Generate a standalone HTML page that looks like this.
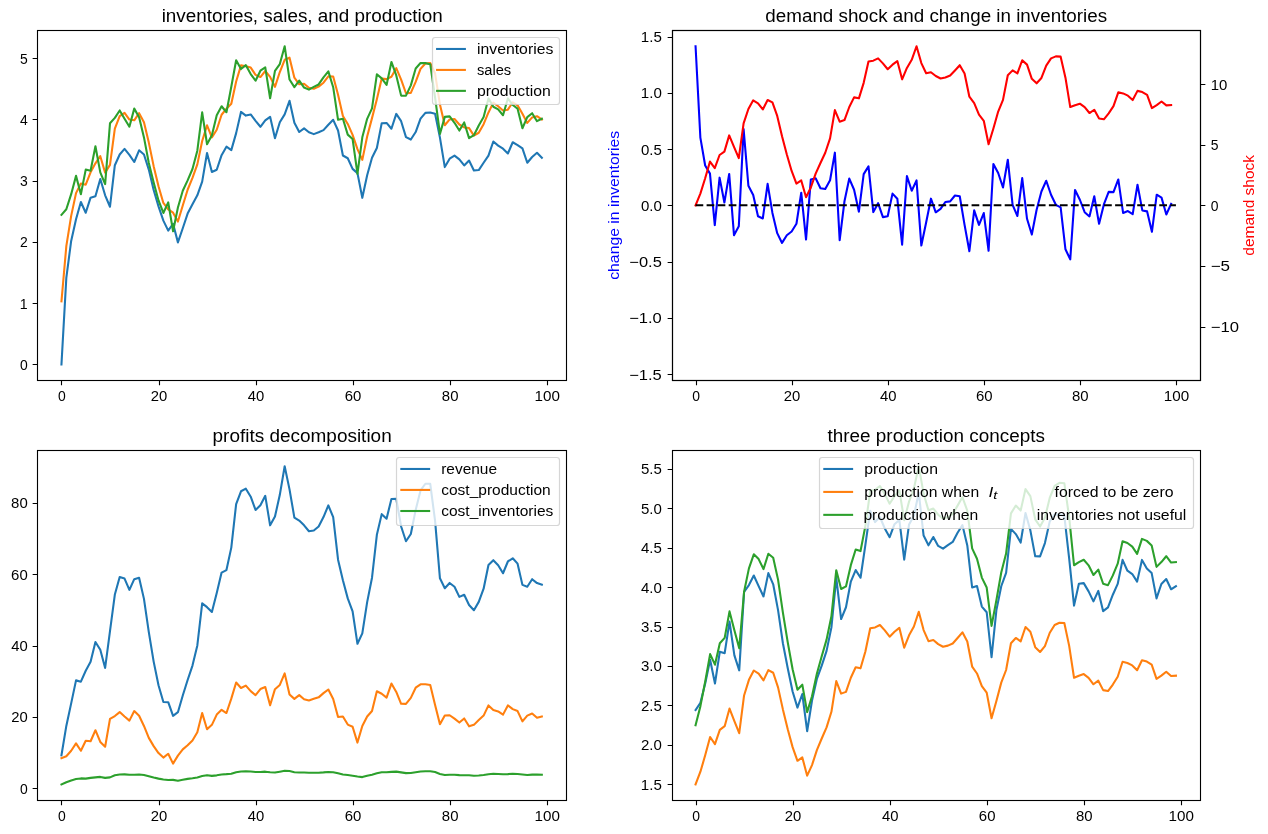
<!DOCTYPE html>
<html><head><meta charset="utf-8"><title>production smoothing</title>
<style>html,body{margin:0;padding:0;background:#fff}svg{display:block;will-change:transform}</style></head>
<body>
<svg width="1268" height="834" viewBox="0 0 1268 834" font-family="'Liberation Sans', sans-serif">
<rect x="0" y="0" width="1268" height="834" fill="#fff"/>
<text x="58.09" y="401.06" font-size="14.58" fill="#000" fill-opacity="1.0" textLength="7.75" lengthAdjust="spacingAndGlyphs">0</text>
<text x="150.76" y="401.06" font-size="14.58" fill="#000" fill-opacity="1.0" textLength="16.50" lengthAdjust="spacingAndGlyphs">20</text>
<text x="247.81" y="401.06" font-size="14.58" fill="#000" fill-opacity="1.0" textLength="16.50" lengthAdjust="spacingAndGlyphs">40</text>
<text x="344.79" y="401.06" font-size="14.58" fill="#000" fill-opacity="1.0" textLength="16.62" lengthAdjust="spacingAndGlyphs">60</text>
<text x="441.84" y="401.06" font-size="14.58" fill="#000" fill-opacity="1.0" textLength="16.62" lengthAdjust="spacingAndGlyphs">80</text>
<text x="534.51" y="401.06" font-size="14.58" fill="#000" fill-opacity="1.0" textLength="25.38" lengthAdjust="spacingAndGlyphs">100</text>
<text x="19.98" y="369.92" font-size="14.58" fill="#000" fill-opacity="1.0" textLength="7.75" lengthAdjust="spacingAndGlyphs">0</text>
<text x="19.85" y="308.68" font-size="14.58" fill="#000" fill-opacity="1.0" textLength="7.88" lengthAdjust="spacingAndGlyphs">1</text>
<text x="19.98" y="247.43" font-size="14.58" fill="#000" fill-opacity="1.0" textLength="7.75" lengthAdjust="spacingAndGlyphs">2</text>
<text x="19.98" y="186.19" font-size="14.58" fill="#000" fill-opacity="1.0" textLength="7.75" lengthAdjust="spacingAndGlyphs">3</text>
<text x="19.98" y="124.95" font-size="14.58" fill="#000" fill-opacity="1.0" textLength="7.75" lengthAdjust="spacingAndGlyphs">4</text>
<text x="19.98" y="63.70" font-size="14.58" fill="#000" fill-opacity="1.0" textLength="7.75" lengthAdjust="spacingAndGlyphs">5</text>
<path d="M61.5 380.5v4.86M159.5 380.5v4.86M256.5 380.5v4.86M353.5 380.5v4.86M450.5 380.5v4.86M547.5 380.5v4.86M37.5 364.5h-4.86M37.5 303.5h-4.86M37.5 242.5h-4.86M37.5 181.5h-4.86M37.5 119.5h-4.86M37.5 58.5h-4.86" stroke="#000" stroke-width="1.11" fill="none"/>
<rect x="37.5" y="30.5" width="529.0" height="350.0" fill="none" stroke="#000" stroke-width="1.11"/>
<clipPath id="c1"><rect x="37.45" y="30.33" width="528.41" height="350.00"/></clipPath>
<g clip-path="url(#c1)" fill="none" stroke-width="2.083" stroke-linejoin="round">
<polyline points="61.47,364.42 66.32,277.82 71.17,240.93 76.03,219.25 80.88,201.99 85.73,212.74 90.58,197.68 95.43,196.17 100.29,179.07 105.14,195.29 109.99,206.74 114.84,165.21 119.70,154.55 124.55,148.92 129.40,154.87 134.25,162.00 139.10,150.33 143.96,154.47 148.81,169.61 153.66,190.07 158.51,206.37 163.37,220.63 168.22,230.65 173.07,223.76 177.92,242.38 182.77,228.28 187.63,213.57 192.48,204.23 197.33,195.33 202.18,181.67 207.04,153.00 211.89,171.96 216.74,169.73 221.59,155.17 226.44,146.69 231.30,150.15 236.15,133.14 241.00,111.93 245.85,115.60 250.71,114.43 255.56,120.86 260.41,126.78 265.26,120.42 270.11,116.82 274.97,138.22 279.82,122.30 284.67,114.35 289.52,100.80 294.38,122.70 299.23,132.03 304.08,128.41 308.93,132.20 313.79,134.15 318.64,132.32 323.49,130.15 328.34,124.79 333.19,119.85 338.05,130.51 342.90,155.47 347.75,158.23 352.60,168.91 357.46,173.11 362.31,197.83 367.16,175.30 372.01,157.71 376.86,148.01 381.72,123.17 386.57,122.95 391.42,128.74 396.27,113.89 401.13,121.20 405.98,137.11 410.83,139.55 415.68,132.03 420.53,118.63 425.39,112.85 430.24,112.56 435.09,113.71 439.94,137.64 444.80,167.08 449.65,158.69 454.50,155.65 459.35,159.41 464.20,165.45 469.06,160.50 473.91,170.56 478.76,170.05 483.61,162.74 488.47,155.56 493.32,141.48 498.17,145.63 503.02,148.73 507.87,153.51 512.73,142.27 517.58,145.04 522.43,148.34 527.28,162.77 532.14,156.97 536.99,152.77 541.84,157.74" stroke="#1f77b4" stroke-linecap="square"/>
<polyline points="61.47,301.42 66.32,246.13 71.17,215.85 76.03,193.12 80.88,183.53 85.73,184.65 90.58,172.29 95.43,163.31 100.29,156.20 105.14,172.62 109.99,164.83 114.84,128.58 119.70,116.10 124.55,112.83 129.40,119.59 134.25,120.30 139.10,113.19 143.96,122.24 148.81,142.59 153.66,166.15 158.51,186.20 163.37,202.94 168.22,209.30 173.07,212.67 177.92,221.57 182.77,205.43 187.63,189.76 192.48,177.88 197.33,164.41 202.18,141.03 207.04,125.32 211.89,137.36 216.74,129.74 221.59,114.76 226.44,108.77 231.30,103.70 236.15,81.44 241.00,65.39 245.85,66.31 250.71,67.59 255.56,74.83 260.41,77.06 265.26,70.98 270.11,76.84 274.97,86.81 279.82,72.02 284.67,59.80 289.52,57.64 294.38,77.74 299.23,84.27 304.08,83.77 308.93,87.71 313.79,88.74 318.64,86.62 323.49,82.70 328.34,76.34 333.19,76.56 338.05,94.84 342.90,115.94 347.75,123.94 352.60,134.80 357.46,149.18 362.31,159.86 367.16,136.43 372.01,118.13 376.86,99.15 381.72,78.60 386.57,79.14 391.42,76.81 396.27,68.16 401.13,79.70 405.98,93.23 410.83,92.87 415.68,81.91 420.53,68.84 425.39,63.43 430.24,63.06 435.09,73.56 439.94,104.42 444.80,125.25 449.65,119.42 454.50,119.03 459.35,124.51 464.20,127.41 469.06,128.08 473.91,135.68 478.76,132.74 483.61,124.21 488.47,112.47 493.32,102.64 498.17,106.25 503.02,110.48 507.87,109.66 512.73,102.26 517.58,105.34 522.43,113.83 527.28,122.91 532.14,117.42 536.99,116.22 541.84,119.58" stroke="#ff7f0e" stroke-linecap="square"/>
<polyline points="61.47,214.82 66.32,209.24 71.17,194.17 76.03,175.86 80.88,194.28 85.73,169.60 90.58,170.78 95.43,146.21 100.29,172.42 105.14,184.07 109.99,123.30 114.84,117.92 119.70,110.47 124.55,118.79 129.40,126.73 134.25,108.63 139.10,117.33 143.96,137.39 148.81,163.05 153.66,182.44 158.51,200.45 163.37,212.97 168.22,202.42 173.07,231.29 177.92,207.47 182.77,190.73 187.63,180.42 192.48,168.98 197.33,150.74 202.18,112.36 207.04,144.27 211.89,135.14 216.74,115.18 221.59,106.28 226.44,112.23 231.30,86.69 236.15,60.23 241.00,69.06 245.85,65.14 250.71,74.02 255.56,80.75 260.41,70.70 265.26,67.38 270.11,98.25 274.97,70.88 279.82,64.07 284.67,46.24 289.52,79.54 294.38,87.06 299.23,80.65 304.08,87.56 308.93,89.66 313.79,86.91 318.64,84.45 323.49,77.34 328.34,71.41 333.19,87.22 338.05,119.80 342.90,118.69 347.75,134.61 352.60,139.01 357.46,173.90 362.31,137.33 367.16,118.83 372.01,108.43 376.86,74.31 381.72,78.38 386.57,84.93 391.42,61.97 396.27,75.47 401.13,95.62 405.98,95.67 410.83,85.35 415.68,68.51 420.53,63.06 425.39,63.14 430.24,64.21 435.09,97.48 439.94,133.87 444.80,116.86 449.65,116.39 454.50,122.79 459.35,130.55 464.20,122.46 469.06,138.14 473.91,135.17 478.76,125.42 483.61,117.03 488.47,98.39 493.32,106.79 498.17,109.36 503.02,115.25 507.87,98.42 512.73,105.03 517.58,108.64 522.43,128.27 527.28,117.11 532.14,113.21 536.99,121.19 541.84,118.74" stroke="#2ca02c" stroke-linecap="square"/>
</g>
<text x="161.65" y="22.00" font-size="17.50" fill="#000" fill-opacity="1.0" textLength="281.00" lengthAdjust="spacingAndGlyphs">inventories, sales, and production</text>
<rect x="432.50" y="37.50" width="127.00" height="67.00" rx="2.78" ry="2.78" fill="#fff" fill-opacity="0.8" stroke="#ccc" stroke-opacity="0.8" stroke-width="1.2"/>
<path d="M437.10 48.97L464.87 48.97" stroke="#1f77b4" stroke-width="2.083" stroke-linecap="square" fill="none"/>
<text x="476.98" y="53.83" font-size="14.58" fill="#000" fill-opacity="1.0" textLength="76.38" lengthAdjust="spacingAndGlyphs">inventories</text>
<path d="M437.10 69.92L464.87 69.92" stroke="#ff7f0e" stroke-width="2.083" stroke-linecap="square" fill="none"/>
<text x="476.98" y="74.78" font-size="14.58" fill="#000" fill-opacity="1.0" textLength="34.25" lengthAdjust="spacingAndGlyphs">sales</text>
<path d="M437.10 90.86L464.87 90.86" stroke="#2ca02c" stroke-width="2.083" stroke-linecap="square" fill="none"/>
<text x="476.98" y="95.72" font-size="14.58" fill="#000" fill-opacity="1.0" textLength="73.75" lengthAdjust="spacingAndGlyphs">production</text>
<text x="692.18" y="401.06" font-size="14.58" fill="#000" fill-opacity="1.0" textLength="7.75" lengthAdjust="spacingAndGlyphs">0</text>
<text x="783.88" y="401.06" font-size="14.58" fill="#000" fill-opacity="1.0" textLength="16.50" lengthAdjust="spacingAndGlyphs">20</text>
<text x="879.96" y="401.06" font-size="14.58" fill="#000" fill-opacity="1.0" textLength="16.50" lengthAdjust="spacingAndGlyphs">40</text>
<text x="975.97" y="401.06" font-size="14.58" fill="#000" fill-opacity="1.0" textLength="16.62" lengthAdjust="spacingAndGlyphs">60</text>
<text x="1072.04" y="401.06" font-size="14.58" fill="#000" fill-opacity="1.0" textLength="16.62" lengthAdjust="spacingAndGlyphs">80</text>
<text x="1163.74" y="401.06" font-size="14.58" fill="#000" fill-opacity="1.0" textLength="25.38" lengthAdjust="spacingAndGlyphs">100</text>
<text x="629.19" y="379.60" font-size="14.58" fill="#000" fill-opacity="1.0" textLength="32.62" lengthAdjust="spacingAndGlyphs">−1.5</text>
<text x="629.19" y="323.34" font-size="14.58" fill="#000" fill-opacity="1.0" textLength="32.62" lengthAdjust="spacingAndGlyphs">−1.0</text>
<text x="629.32" y="267.09" font-size="14.58" fill="#000" fill-opacity="1.0" textLength="32.50" lengthAdjust="spacingAndGlyphs">−0.5</text>
<text x="640.94" y="210.83" font-size="14.58" fill="#000" fill-opacity="1.0" textLength="20.88" lengthAdjust="spacingAndGlyphs">0.0</text>
<text x="640.94" y="154.58" font-size="14.58" fill="#000" fill-opacity="1.0" textLength="20.88" lengthAdjust="spacingAndGlyphs">0.5</text>
<text x="640.82" y="98.32" font-size="14.58" fill="#000" fill-opacity="1.0" textLength="21.00" lengthAdjust="spacingAndGlyphs">1.0</text>
<text x="640.82" y="42.07" font-size="14.58" fill="#000" fill-opacity="1.0" textLength="21.00" lengthAdjust="spacingAndGlyphs">1.5</text>
<path d="M696.5 380.5v4.86M792.5 380.5v4.86M888.5 380.5v4.86M984.5 380.5v4.86M1080.5 380.5v4.86M1176.5 380.5v4.86M672.5 374.5h-4.86M672.5 318.5h-4.86M672.5 262.5h-4.86M672.5 205.5h-4.86M672.5 149.5h-4.86M672.5 93.5h-4.86M672.5 37.5h-4.86" stroke="#000" stroke-width="1.11" fill="none"/>
<rect x="672.5" y="30.5" width="528.0" height="350.0" fill="none" stroke="#000" stroke-width="1.11"/>
<clipPath id="c2a"><rect x="671.54" y="30.33" width="528.41" height="350.00"/></clipPath>
<g clip-path="url(#c2a)" fill="none" stroke-width="2.083" stroke-linejoin="round">
<polyline points="695.56,46.24 700.36,137.57 705.17,165.50 709.97,173.63 714.77,225.08 719.58,177.67 724.38,202.55 729.19,173.93 733.99,235.13 738.79,226.37 743.60,129.04 748.40,185.74 753.20,194.99 758.01,216.27 762.81,218.43 767.62,183.89 772.42,212.93 777.22,233.16 782.03,242.92 786.83,235.27 791.63,231.53 796.44,223.75 801.24,192.68 806.05,239.53 810.85,179.42 815.65,178.33 820.46,188.18 825.26,188.98 830.06,180.24 834.87,152.67 839.67,240.15 844.47,201.25 849.28,178.58 854.08,189.75 858.89,211.68 863.69,174.09 868.49,166.37 873.30,212.08 878.10,203.18 882.90,217.14 887.71,216.22 892.51,193.64 897.32,198.72 902.12,244.66 906.92,176.08 911.73,190.74 916.53,180.43 921.33,245.57 926.14,222.47 930.94,198.68 935.75,212.30 940.55,208.92 945.35,201.97 950.16,201.35 954.96,195.48 959.76,196.27 964.57,224.92 969.37,251.19 974.18,210.40 978.98,224.94 983.78,213.05 988.59,250.75 993.39,163.95 998.19,173.01 1003.00,187.51 1007.80,159.71 1012.60,204.93 1017.41,215.97 1022.21,178.06 1027.02,218.76 1031.82,234.57 1036.62,209.81 1041.43,191.52 1046.23,180.72 1051.03,194.72 1055.84,204.81 1060.64,207.45 1065.45,249.28 1070.25,259.42 1075.05,189.92 1079.86,199.75 1084.66,212.23 1089.46,216.43 1094.27,196.25 1099.07,223.81 1103.88,204.40 1108.68,191.89 1113.48,192.14 1118.29,179.47 1123.09,212.96 1127.89,211.04 1132.70,214.11 1137.50,184.68 1142.31,210.42 1147.11,211.39 1151.91,231.84 1156.72,194.68 1161.52,197.61 1166.32,214.46 1171.13,203.79" stroke="#0000ff" stroke-linecap="square"/>
</g>
<clipPath id="c2b"><rect x="671.54" y="30.33" width="528.41" height="350.00"/></clipPath>
<g clip-path="url(#c2b)" fill="none" stroke-width="2.083" stroke-linejoin="round">
<polyline points="695.56,205.33 700.36,193.62 705.17,178.28 709.97,161.62 714.77,168.15 719.58,155.01 724.38,151.65 729.19,135.41 733.99,146.93 738.79,158.12 743.60,123.35 748.40,108.96 753.20,100.35 758.01,103.28 762.81,109.43 767.62,100.00 772.42,102.43 777.22,115.90 782.03,136.18 786.83,154.42 791.63,170.97 796.44,183.55 801.24,180.43 806.05,197.27 810.85,187.51 815.65,173.69 820.46,163.01 825.26,152.77 830.06,138.40 834.87,110.10 839.67,121.64 844.47,120.06 849.28,107.00 854.08,97.38 858.89,98.35 863.69,82.85 868.49,61.49 873.30,60.67 878.10,58.39 882.90,63.38 887.71,69.23 892.51,64.68 897.32,61.06 902.12,79.36 906.92,67.94 911.73,59.83 916.53,46.24 921.33,63.08 926.14,73.31 930.94,72.25 935.75,76.03 940.55,78.47 945.35,77.43 950.16,75.50 954.96,70.44 959.76,65.18 964.57,73.56 969.37,96.72 974.18,103.11 978.98,114.66 983.78,120.77 988.59,144.31 993.39,128.50 998.19,111.54 1003.00,99.89 1007.80,75.20 1012.60,70.37 1017.41,73.48 1022.21,60.25 1027.02,64.62 1031.82,78.84 1036.62,83.28 1041.43,77.94 1046.23,65.58 1051.03,58.37 1055.84,56.41 1060.64,56.65 1065.45,77.68 1070.25,107.06 1075.05,105.16 1079.86,103.68 1084.66,107.11 1089.46,113.03 1094.27,109.74 1099.07,118.43 1103.88,119.30 1108.68,113.30 1113.48,106.13 1118.29,92.29 1123.09,93.41 1127.89,95.65 1132.70,100.09 1137.50,90.88 1142.31,92.09 1147.11,94.87 1151.91,108.06 1156.72,105.11 1161.52,101.52 1166.32,105.39 1171.13,105.12" stroke="#ff0000" stroke-linecap="square"/>
<polyline points="695.56,205.33 1175.93,205.33" stroke="#000000" stroke-dasharray="7.708 3.333"/>
</g>
<text x="1210.67" y="332.09" font-size="14.58" fill="#000" fill-opacity="1.0" textLength="28.25" lengthAdjust="spacingAndGlyphs">−10</text>
<text x="1210.67" y="271.46" font-size="14.58" fill="#000" fill-opacity="1.0" textLength="19.38" lengthAdjust="spacingAndGlyphs">−5</text>
<text x="1210.67" y="210.83" font-size="14.58" fill="#000" fill-opacity="1.0" textLength="7.75" lengthAdjust="spacingAndGlyphs">0</text>
<text x="1210.67" y="150.20" font-size="14.58" fill="#000" fill-opacity="1.0" textLength="7.75" lengthAdjust="spacingAndGlyphs">5</text>
<text x="1210.67" y="89.57" font-size="14.58" fill="#000" fill-opacity="1.0" textLength="16.62" lengthAdjust="spacingAndGlyphs">10</text>
<path d="M1200.5 327.5h4.86M1200.5 266.5h4.86M1200.5 205.5h4.86M1200.5 145.5h4.86M1200.5 84.5h4.86" stroke="#000" stroke-width="1.11" fill="none"/>
<rect x="672.5" y="30.5" width="528.0" height="350.0" fill="none" stroke="#000" stroke-width="1.11"/>
<text x="765.37" y="22.00" font-size="17.50" fill="#000" fill-opacity="1.0" textLength="341.75" lengthAdjust="spacingAndGlyphs">demand shock and change in inventories</text>
<text transform="translate(615.64,205.33) rotate(-90)" x="-74.44" y="3.00" font-size="14.58" fill="#0000ff" fill-opacity="1.0" textLength="148.88" lengthAdjust="spacingAndGlyphs">change in inventories</text>
<text transform="translate(1251.48,205.33) rotate(-90)" x="-50.31" y="3.00" font-size="14.58" fill="#ff0000" fill-opacity="1.0" textLength="100.62" lengthAdjust="spacingAndGlyphs">demand shock</text>
<text x="58.09" y="821.06" font-size="14.58" fill="#000" fill-opacity="1.0" textLength="7.75" lengthAdjust="spacingAndGlyphs">0</text>
<text x="150.76" y="821.06" font-size="14.58" fill="#000" fill-opacity="1.0" textLength="16.50" lengthAdjust="spacingAndGlyphs">20</text>
<text x="247.81" y="821.06" font-size="14.58" fill="#000" fill-opacity="1.0" textLength="16.50" lengthAdjust="spacingAndGlyphs">40</text>
<text x="344.79" y="821.06" font-size="14.58" fill="#000" fill-opacity="1.0" textLength="16.62" lengthAdjust="spacingAndGlyphs">60</text>
<text x="441.84" y="821.06" font-size="14.58" fill="#000" fill-opacity="1.0" textLength="16.62" lengthAdjust="spacingAndGlyphs">80</text>
<text x="534.51" y="821.06" font-size="14.58" fill="#000" fill-opacity="1.0" textLength="25.38" lengthAdjust="spacingAndGlyphs">100</text>
<text x="19.98" y="793.70" font-size="14.58" fill="#000" fill-opacity="1.0" textLength="7.75" lengthAdjust="spacingAndGlyphs">0</text>
<text x="11.23" y="722.36" font-size="14.58" fill="#000" fill-opacity="1.0" textLength="16.50" lengthAdjust="spacingAndGlyphs">20</text>
<text x="11.23" y="651.01" font-size="14.58" fill="#000" fill-opacity="1.0" textLength="16.50" lengthAdjust="spacingAndGlyphs">40</text>
<text x="11.10" y="579.67" font-size="14.58" fill="#000" fill-opacity="1.0" textLength="16.62" lengthAdjust="spacingAndGlyphs">60</text>
<text x="11.10" y="508.33" font-size="14.58" fill="#000" fill-opacity="1.0" textLength="16.62" lengthAdjust="spacingAndGlyphs">80</text>
<path d="M61.5 800.5v4.86M159.5 800.5v4.86M256.5 800.5v4.86M353.5 800.5v4.86M450.5 800.5v4.86M547.5 800.5v4.86M37.5 788.5h-4.86M37.5 717.5h-4.86M37.5 646.5h-4.86M37.5 574.5h-4.86M37.5 503.5h-4.86" stroke="#000" stroke-width="1.11" fill="none"/>
<rect x="37.5" y="450.5" width="529.0" height="350.0" fill="none" stroke="#000" stroke-width="1.11"/>
<clipPath id="c3"><rect x="37.45" y="450.33" width="528.41" height="350.00"/></clipPath>
<g clip-path="url(#c3)" fill="none" stroke-width="2.083" stroke-linejoin="round">
<polyline points="61.47,755.28 66.32,725.95 71.17,703.35 76.03,680.37 80.88,681.65 85.73,670.78 90.58,661.86 95.43,641.98 100.29,649.74 105.14,667.97 109.99,631.23 114.84,594.57 119.70,577.00 124.55,578.54 129.40,589.82 134.25,579.18 139.10,577.72 143.96,598.89 148.81,632.11 153.66,661.61 158.51,685.19 163.37,702.05 168.22,702.18 173.07,715.83 177.92,712.17 182.77,695.47 187.63,679.97 192.48,665.55 197.33,645.44 202.18,603.36 207.04,607.19 211.89,611.98 216.74,593.05 221.59,572.61 226.44,570.09 231.30,547.60 236.15,504.01 241.00,491.28 245.85,488.67 250.71,496.72 255.56,509.97 260.41,505.22 265.26,495.83 270.11,525.34 274.97,516.59 279.82,494.84 284.67,466.24 289.52,489.41 294.38,517.58 299.23,520.58 304.08,525.33 308.93,531.23 313.79,530.54 318.64,526.55 323.49,517.06 328.34,505.40 333.19,517.14 338.05,559.66 342.90,580.18 347.75,598.39 352.60,611.34 357.46,643.81 362.31,633.36 367.16,602.13 372.01,577.70 376.86,534.80 381.72,514.13 386.57,518.76 391.42,498.92 396.27,498.88 401.13,526.47 405.98,541.21 410.83,534.00 415.68,509.91 420.53,490.47 425.39,483.74 430.24,483.82 435.09,520.91 439.94,578.33 444.80,588.22 449.65,582.96 454.50,586.77 459.35,596.84 464.20,594.75 469.06,605.01 473.91,610.20 478.76,601.89 483.61,588.70 488.47,565.01 493.32,560.17 498.17,565.20 503.02,573.25 507.87,561.49 512.73,558.27 517.58,563.67 522.43,584.88 527.28,586.74 532.14,579.19 536.99,583.08 541.84,584.75" stroke="#1f77b4" stroke-linecap="square"/>
<polyline points="61.47,758.20 66.32,756.26 71.17,750.71 76.03,743.40 80.88,750.76 85.73,740.75 90.58,741.26 95.43,730.21 100.29,741.96 105.14,746.76 109.99,718.86 114.84,716.05 119.70,712.08 124.55,716.51 129.40,720.62 134.25,711.08 139.10,715.74 143.96,725.95 148.81,737.90 153.66,746.10 158.51,753.08 163.37,757.56 168.22,753.80 173.07,763.59 177.92,755.63 182.77,749.39 187.63,745.28 192.48,740.49 197.33,732.33 202.18,713.10 207.04,729.28 211.89,724.85 216.74,714.60 221.59,709.79 226.44,713.02 231.30,698.67 236.15,682.48 241.00,688.03 245.85,685.58 250.71,691.08 255.56,695.15 260.41,689.04 265.26,686.98 270.11,705.32 274.97,689.16 279.82,684.91 284.67,673.39 289.52,694.42 294.38,698.89 299.23,695.09 304.08,699.18 308.93,700.40 313.79,698.79 318.64,697.35 323.49,693.10 328.34,689.48 333.19,698.98 338.05,717.04 342.90,716.46 347.75,724.59 352.60,726.75 357.46,742.58 362.31,725.93 367.16,716.54 372.01,710.96 376.86,691.26 381.72,693.73 386.57,697.63 391.42,683.58 396.27,691.96 401.13,703.82 405.98,703.86 410.83,697.88 415.68,687.69 420.53,684.28 425.39,684.33 430.24,685.00 435.09,704.88 439.94,724.22 444.80,715.50 449.65,715.24 454.50,718.60 459.35,722.56 464.20,718.43 469.06,726.32 473.91,724.86 478.76,719.95 483.61,715.58 488.47,705.40 493.32,710.07 498.17,711.47 503.02,714.64 507.87,705.41 512.73,709.10 517.58,711.08 522.43,721.41 527.28,715.63 532.14,713.55 536.99,717.77 541.84,716.49" stroke="#ff7f0e" stroke-linecap="square"/>
<polyline points="61.47,784.42 66.32,782.20 71.17,780.41 76.03,779.09 80.88,778.41 85.73,778.61 90.58,777.87 95.43,777.37 100.29,776.91 105.14,777.86 109.99,777.34 114.84,775.32 119.70,774.57 124.55,774.41 129.40,774.81 134.25,774.76 139.10,774.42 143.96,774.98 148.81,776.16 153.66,777.50 158.51,778.61 163.37,779.53 168.22,779.97 173.07,779.89 177.92,780.68 182.77,779.77 187.63,778.87 192.48,778.21 197.33,777.44 202.18,775.98 207.04,775.16 211.89,775.85 216.74,775.34 221.59,774.46 226.44,774.15 231.30,773.67 236.15,772.19 241.00,771.43 245.85,771.40 250.71,771.55 255.56,772.00 260.41,772.01 265.26,771.66 270.11,772.26 274.97,772.51 279.82,771.69 284.67,770.80 289.52,771.07 294.38,772.20 299.23,772.49 304.08,772.56 308.93,772.79 313.79,772.83 318.64,772.69 323.49,772.41 328.34,772.01 333.19,772.17 338.05,773.36 342.90,774.54 347.75,775.07 352.60,775.70 357.46,776.51 362.31,777.12 367.16,775.75 372.01,774.67 376.86,773.32 381.72,772.26 386.57,772.31 391.42,771.91 396.27,771.62 401.13,772.39 405.98,773.13 410.83,773.03 415.68,772.27 420.53,771.52 425.39,771.22 430.24,771.20 435.09,772.06 439.94,773.94 444.80,775.04 449.65,774.75 454.50,774.76 459.35,775.10 464.20,775.23 469.06,775.32 473.91,775.75 478.76,775.55 483.61,775.04 488.47,774.27 493.32,773.78 498.17,773.98 503.02,774.24 507.87,774.09 512.73,773.74 517.58,773.92 522.43,774.48 527.28,774.94 532.14,774.63 536.99,774.60 541.84,774.78" stroke="#2ca02c" stroke-linecap="square"/>
</g>
<text x="212.59" y="442.00" font-size="17.50" fill="#000" fill-opacity="1.0" textLength="179.12" lengthAdjust="spacingAndGlyphs">profits decomposition</text>
<rect x="396.50" y="457.50" width="163.00" height="68.00" rx="2.78" ry="2.78" fill="#fff" fill-opacity="0.8" stroke="#ccc" stroke-opacity="0.8" stroke-width="1.2"/>
<path d="M401.35 468.97L429.12 468.97" stroke="#1f77b4" stroke-width="2.083" stroke-linecap="square" fill="none"/>
<text x="441.23" y="473.83" font-size="14.58" fill="#000" fill-opacity="1.0" textLength="55.75" lengthAdjust="spacingAndGlyphs">revenue</text>
<path d="M401.35 489.92L429.12 489.92" stroke="#ff7f0e" stroke-width="2.083" stroke-linecap="square" fill="none"/>
<text x="441.23" y="494.78" font-size="14.58" fill="#000" fill-opacity="1.0" textLength="109.50" lengthAdjust="spacingAndGlyphs">cost_production</text>
<path d="M401.35 511.00L429.12 511.00" stroke="#2ca02c" stroke-width="2.083" stroke-linecap="square" fill="none"/>
<text x="441.23" y="515.86" font-size="14.58" fill="#000" fill-opacity="1.0" textLength="112.12" lengthAdjust="spacingAndGlyphs">cost_inventories</text>
<text x="692.18" y="821.06" font-size="14.58" fill="#000" fill-opacity="1.0" textLength="7.75" lengthAdjust="spacingAndGlyphs">0</text>
<text x="784.85" y="821.06" font-size="14.58" fill="#000" fill-opacity="1.0" textLength="16.50" lengthAdjust="spacingAndGlyphs">20</text>
<text x="881.90" y="821.06" font-size="14.58" fill="#000" fill-opacity="1.0" textLength="16.50" lengthAdjust="spacingAndGlyphs">40</text>
<text x="978.88" y="821.06" font-size="14.58" fill="#000" fill-opacity="1.0" textLength="16.62" lengthAdjust="spacingAndGlyphs">60</text>
<text x="1075.93" y="821.06" font-size="14.58" fill="#000" fill-opacity="1.0" textLength="16.62" lengthAdjust="spacingAndGlyphs">80</text>
<text x="1168.60" y="821.06" font-size="14.58" fill="#000" fill-opacity="1.0" textLength="25.38" lengthAdjust="spacingAndGlyphs">100</text>
<text x="640.82" y="789.92" font-size="14.58" fill="#000" fill-opacity="1.0" textLength="21.00" lengthAdjust="spacingAndGlyphs">1.5</text>
<text x="640.94" y="750.45" font-size="14.58" fill="#000" fill-opacity="1.0" textLength="20.88" lengthAdjust="spacingAndGlyphs">2.0</text>
<text x="640.94" y="710.97" font-size="14.58" fill="#000" fill-opacity="1.0" textLength="20.88" lengthAdjust="spacingAndGlyphs">2.5</text>
<text x="640.94" y="671.49" font-size="14.58" fill="#000" fill-opacity="1.0" textLength="20.88" lengthAdjust="spacingAndGlyphs">3.0</text>
<text x="640.94" y="632.02" font-size="14.58" fill="#000" fill-opacity="1.0" textLength="20.88" lengthAdjust="spacingAndGlyphs">3.5</text>
<text x="640.94" y="592.54" font-size="14.58" fill="#000" fill-opacity="1.0" textLength="20.88" lengthAdjust="spacingAndGlyphs">4.0</text>
<text x="640.94" y="553.06" font-size="14.58" fill="#000" fill-opacity="1.0" textLength="20.88" lengthAdjust="spacingAndGlyphs">4.5</text>
<text x="640.94" y="513.59" font-size="14.58" fill="#000" fill-opacity="1.0" textLength="20.88" lengthAdjust="spacingAndGlyphs">5.0</text>
<text x="640.94" y="474.11" font-size="14.58" fill="#000" fill-opacity="1.0" textLength="20.88" lengthAdjust="spacingAndGlyphs">5.5</text>
<path d="M696.5 800.5v4.86M793.5 800.5v4.86M890.5 800.5v4.86M987.5 800.5v4.86M1084.5 800.5v4.86M1181.5 800.5v4.86M672.5 784.5h-4.86M672.5 745.5h-4.86M672.5 705.5h-4.86M672.5 666.5h-4.86M672.5 627.5h-4.86M672.5 587.5h-4.86M672.5 548.5h-4.86M672.5 508.5h-4.86M672.5 469.5h-4.86" stroke="#000" stroke-width="1.11" fill="none"/>
<rect x="672.5" y="450.5" width="528.0" height="350.0" fill="none" stroke="#000" stroke-width="1.11"/>
<clipPath id="c4"><rect x="671.54" y="450.33" width="528.41" height="350.00"/></clipPath>
<g clip-path="url(#c4)" fill="none" stroke-width="2.083" stroke-linejoin="round">
<polyline points="695.56,710.00 700.41,702.80 705.26,683.37 710.12,659.77 714.97,683.51 719.82,651.69 724.67,653.21 729.53,621.55 734.38,655.33 739.23,670.35 744.08,592.00 748.93,585.07 753.79,575.48 758.64,586.19 763.49,596.43 768.34,573.10 773.20,584.31 778.05,610.17 782.90,643.25 787.75,668.25 792.60,691.47 797.46,707.60 802.31,694.00 807.16,731.22 812.01,700.52 816.87,678.94 821.72,665.64 826.57,650.90 831.42,627.39 836.27,577.91 841.13,619.04 845.98,607.27 850.83,581.54 855.68,570.07 860.54,577.74 865.39,544.81 870.24,510.71 875.09,522.09 879.94,517.03 884.80,528.48 889.65,537.16 894.50,524.20 899.35,519.92 904.21,559.71 909.06,524.44 913.91,515.65 918.76,492.67 923.61,535.59 928.47,545.30 933.32,537.02 938.17,545.94 943.02,548.64 947.88,545.10 952.73,541.93 957.58,532.76 962.43,525.12 967.29,545.49 972.14,587.50 976.99,586.07 981.84,606.59 986.69,612.26 991.55,657.24 996.40,610.10 1001.25,586.25 1006.10,572.83 1010.96,528.86 1015.81,534.10 1020.66,542.54 1025.51,512.94 1030.36,530.34 1035.22,556.32 1040.07,556.39 1044.92,543.08 1049.77,521.38 1054.63,514.35 1059.48,514.46 1064.33,515.83 1069.18,558.73 1074.03,605.63 1078.89,583.71 1083.74,583.10 1088.59,591.35 1093.44,601.35 1098.30,590.93 1103.15,611.14 1108.00,607.31 1112.85,594.74 1117.70,583.93 1122.56,559.89 1127.41,570.73 1132.26,574.04 1137.11,581.64 1141.97,559.93 1146.82,568.46 1151.67,573.11 1156.52,598.41 1161.37,584.03 1166.23,579.01 1171.08,589.29 1175.93,586.14" stroke="#1f77b4" stroke-linecap="square"/>
<polyline points="695.56,784.42 700.41,771.71 705.26,755.07 710.12,736.99 714.97,744.08 719.82,729.82 724.67,726.17 729.53,708.54 734.38,721.04 739.23,733.19 744.08,695.46 748.93,679.84 753.79,670.50 758.64,673.68 763.49,680.35 768.34,670.11 773.20,672.75 778.05,687.37 782.90,709.38 787.75,729.17 792.60,747.14 797.46,760.78 802.31,757.40 807.16,775.67 812.01,765.08 816.87,750.08 821.72,738.49 826.57,727.38 831.42,711.79 836.27,681.08 841.13,693.61 845.98,691.88 850.83,677.72 855.68,667.28 860.54,668.33 865.39,651.51 870.24,628.32 875.09,627.43 879.94,624.96 884.80,630.38 889.65,636.73 894.50,631.79 899.35,627.86 904.21,647.72 909.06,635.33 913.91,626.53 918.76,611.78 923.61,630.06 928.47,641.15 933.32,640.00 938.17,644.10 943.02,646.75 947.88,645.62 952.73,643.53 957.58,638.04 962.43,632.33 967.29,641.43 972.14,666.56 976.99,673.49 981.84,686.02 986.69,692.66 991.55,718.21 996.40,701.05 1001.25,682.64 1006.10,670.00 1010.96,643.20 1015.81,637.96 1020.66,641.33 1025.51,626.98 1030.36,631.72 1035.22,647.16 1040.07,651.98 1044.92,646.18 1049.77,632.76 1054.63,624.94 1059.48,622.81 1064.33,623.07 1069.18,645.90 1074.03,677.78 1078.89,675.72 1083.74,674.11 1088.59,677.83 1093.44,684.26 1098.30,680.68 1103.15,690.12 1108.00,691.06 1112.85,684.55 1117.70,676.77 1122.56,661.75 1127.41,662.97 1132.26,665.39 1137.11,670.22 1141.97,660.22 1146.82,661.54 1151.67,664.55 1156.52,678.86 1161.37,675.67 1166.23,671.77 1171.08,675.97 1175.93,675.67" stroke="#ff7f0e" stroke-linecap="square"/>
<polyline points="695.56,725.21 700.41,706.14 705.26,681.18 710.12,654.06 714.97,664.69 719.82,643.30 724.67,637.82 729.53,611.39 734.38,630.14 739.23,648.35 744.08,591.76 748.93,568.34 753.79,554.32 758.64,559.09 763.49,569.09 768.34,553.75 773.20,557.70 778.05,579.63 782.90,612.65 787.75,642.33 792.60,669.28 797.46,689.75 802.31,684.68 807.16,712.08 812.01,696.20 816.87,673.69 821.72,656.31 826.57,639.65 831.42,616.26 836.27,570.19 841.13,588.98 845.98,586.40 850.83,565.15 855.68,549.49 860.54,551.07 865.39,525.84 870.24,491.06 875.09,489.72 879.94,486.01 884.80,494.14 889.65,503.67 894.50,496.25 899.35,490.37 904.21,520.15 909.06,501.56 913.91,488.36 918.76,466.24 923.61,493.66 928.47,510.30 933.32,508.57 938.17,514.73 943.02,518.70 947.88,517.01 952.73,513.87 957.58,505.63 962.43,497.07 967.29,510.71 972.14,548.41 976.99,558.81 981.84,577.61 986.69,587.57 991.55,625.88 996.40,600.15 1001.25,572.54 1006.10,553.57 1010.96,513.38 1015.81,505.52 1020.66,510.57 1025.51,489.04 1030.36,496.16 1035.22,519.31 1040.07,526.54 1044.92,517.84 1049.77,497.72 1054.63,485.98 1059.48,482.79 1064.33,483.18 1069.18,517.42 1074.03,565.25 1078.89,562.15 1083.74,559.74 1088.59,565.32 1093.44,574.96 1098.30,569.60 1103.15,583.75 1108.00,585.16 1112.85,575.40 1117.70,563.72 1122.56,541.20 1127.41,543.02 1132.26,546.66 1137.11,553.90 1141.97,538.91 1146.82,540.88 1151.67,545.40 1156.52,566.87 1161.37,562.07 1166.23,556.22 1171.08,562.53 1175.93,562.08" stroke="#2ca02c" stroke-linecap="square"/>
</g>
<text x="827.56" y="442.00" font-size="17.50" fill="#000" fill-opacity="1.0" textLength="217.38" lengthAdjust="spacingAndGlyphs">three production concepts</text>
<rect x="819.50" y="457.50" width="374.00" height="71.00" rx="2.78" ry="2.78" fill="#fff" fill-opacity="0.8" stroke="#ccc" stroke-opacity="0.8" stroke-width="1.2"/>
<path d="M824.31 468.97L852.09 468.97" stroke="#1f77b4" stroke-width="2.083" stroke-linecap="square" fill="none"/>
<text x="864.20" y="473.83" font-size="14.58" fill="#000" fill-opacity="1.0" textLength="73.75" lengthAdjust="spacingAndGlyphs">production</text>
<path d="M824.31 491.92L852.09 491.92" stroke="#ff7f0e" stroke-width="2.083" stroke-linecap="square" fill="none"/>
<text x="864.30" y="497.00" font-size="14.58" fill="#000" fill-opacity="1.0" textLength="115.00" lengthAdjust="spacingAndGlyphs">production when</text>
<text x="988.60" y="497.00" font-size="14.58" fill="#000" fill-opacity="1.0" font-style="italic" textLength="4.80" lengthAdjust="spacingAndGlyphs">I</text>
<text x="993.30" y="499.30" font-size="10.21" fill="#000" fill-opacity="1.0" font-style="italic" textLength="4.00" lengthAdjust="spacingAndGlyphs">t</text>
<text x="1054.60" y="497.00" font-size="14.58" fill="#000" fill-opacity="1.0" textLength="118.90" lengthAdjust="spacingAndGlyphs">forced to be zero</text>
<path d="M824.31 514.86L852.09 514.86" stroke="#2ca02c" stroke-width="2.083" stroke-linecap="square" fill="none"/>
<text x="863.4" y="520.0" font-size="14.58" fill="#000" fill-opacity="1.0" textLength="114.9" lengthAdjust="spacingAndGlyphs">production when</text>
<text x="1036.8" y="520.0" font-size="14.58" fill="#000" fill-opacity="1.0" textLength="149.6" lengthAdjust="spacingAndGlyphs">inventories not useful</text>
</svg>
</body></html>
